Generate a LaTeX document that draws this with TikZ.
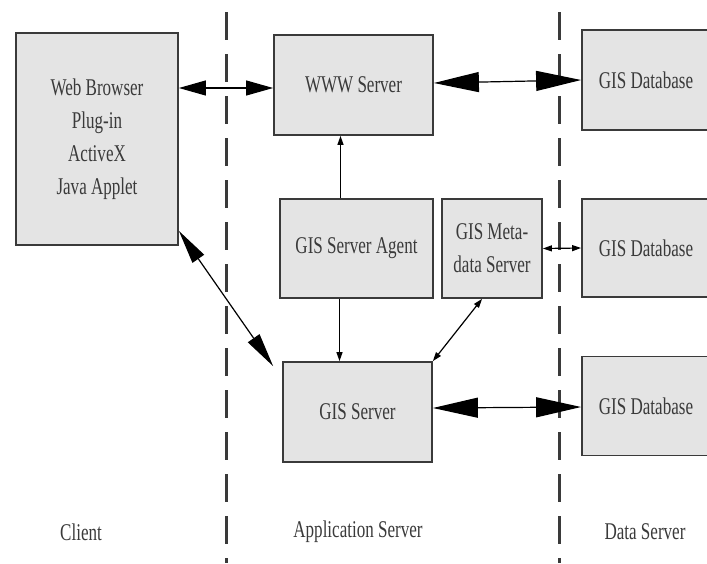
\documentclass[tikz,border=0pt]{standalone}
\usepackage{fontspec}
\setmainfont{Liberation Serif}[FakeStretch=0.71]
\usetikzlibrary{arrows.meta}

\definecolor{boxfill}{HTML}{E4E4E4}
\definecolor{inkgray}{HTML}{3A3A3A}

\tikzset{
  box/.style={draw=inkgray, line width=1.8pt, fill=boxfill, text=inkgray,
    align=center, inner sep=0pt, font=\fontsize{24}{33}\selectfont},
  tierline/.style={draw=inkgray, line width=3pt, dash pattern=on 28pt off 14pt},
  tierlabel/.style={text=inkgray, font=\fontsize{24}{33}\selectfont},
  bigarrow/.style={draw=black, line width=1.2pt,
    {Triangle[length=45pt,width=20pt]}-{Triangle[length=45pt,width=20pt]}},
  midarrow/.style={draw=black, line width=1.2pt,
    {Triangle[length=34pt,width=14pt]}-{Triangle[length=34pt,width=14pt]}},
  smallarrow/.style={draw=black, line width=1.2pt, -{Triangle[length=9pt,width=6pt]}},
  smallboth/.style={draw=black, line width=1.2pt,
    {Triangle[length=9pt,width=6pt]}-{Triangle[length=9pt,width=6pt]}}
}

\begin{document}
\begin{tikzpicture}[x=1pt, y=-1pt]
    \useasboundingbox (0,0) rectangle (707,563);

    % tier borders
    \draw[tierline] (226,12) -- (226,563);
    \draw[tierline] (559,12) -- (559,563);

    % client
    \node[box, minimum width=162pt, minimum height=212pt] (web) at (97,139)
        {Web Browser\\Plug-in\\ActiveX\\Java Applet};

    % application server
    \node[box, minimum width=159pt, minimum height=100pt] (www) at (353.5,85) {WWW Server};
    \node[box, minimum width=153pt, minimum height=99pt] (agent) at (356.5,248.5) {GIS Server Agent};
    \node[box, minimum width=100pt, minimum height=99pt] (meta) at (492,248.5) {GIS Meta-\\data Server};
    \node[box, minimum width=149pt, minimum height=100pt] (gis) at (357.5,412) {GIS Server};

    % data server
    \node[box, minimum width=128pt, minimum height=100pt] (db1) at (646,80) {GIS Database};
    \node[box, minimum width=128pt, minimum height=98pt] (db2) at (646,248) {GIS Database};
    \node[box, minimum width=128pt, minimum height=99pt] (db3) at (646,406) {GIS Database};

    % connections
    \draw[midarrow, {Triangle[length=27pt,width=15pt]}-{Triangle[length=27pt,width=15pt]}]
        (web.east |- 0,88) -- (www.west |- 0,88);
    \draw[bigarrow] ([yshift=2pt]www.east) -- (db1.west);
    \draw[smallarrow] ([xshift=-16pt]agent.north) -- ([xshift=-16pt]agent.north |- www.south);
    \draw[smallarrow] ([xshift=-17pt]agent.south) -- ([xshift=-17pt]agent.south |- gis.north);
    \draw[smallboth] (meta.east) -- (db2.west);
    \draw[smallboth] ([xshift=-10pt]meta.south) -- (gis.north east);
    \draw[midarrow] ([yshift=15pt]web.south east) -- ([xshift=-9pt,yshift=-5pt]gis.north west);
    \draw[bigarrow] ([yshift=4pt]gis.east) -- ([yshift=-1pt]db3.west);

    % tier names
    \node[tierlabel] (client) at (81,532) {Client};
    \node[tierlabel] (appserver) at (358,532) {Application Server};
    \node[tierlabel] (dataserver) at (645,532) {Data Server};
\end{tikzpicture}
\end{document}
